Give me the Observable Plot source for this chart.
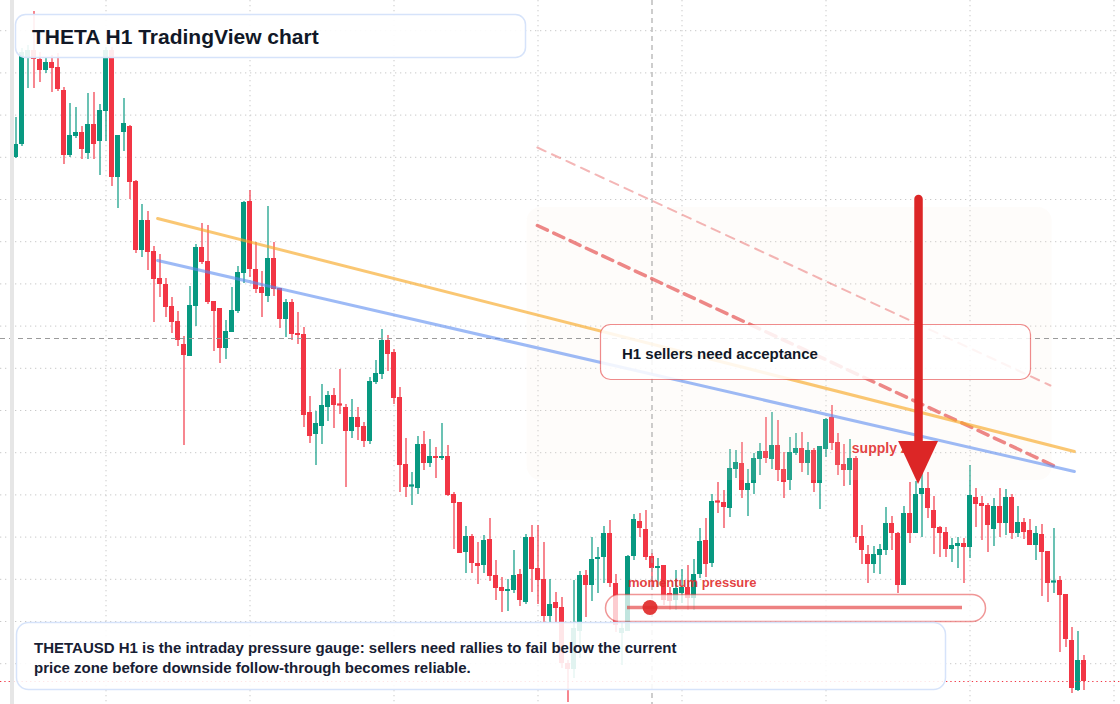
<!DOCTYPE html>
<html><head><meta charset="utf-8">
<script src="https://cdn.jsdelivr.net/npm/d3@7"></script>
<script src="https://cdn.jsdelivr.net/npm/@observablehq/plot@0.6"></script>
<style>
html,body{margin:0;padding:0;background:#fff;}
#wrap{position:relative;width:1120px;height:704px;overflow:hidden;font-family:"Liberation Sans",Arial,sans-serif;}
#wrap svg{position:absolute;left:0;top:0;}
</style></head>
<body><div id="wrap"></div>
<script>
// ---- data (THETAUSD, H1 candles, oldest -> newest) ----
const open = [0.7843,0.7856,0.7942,0.7950,0.7941,0.7930,0.7938,0.7933,0.7910,0.7845,0.7864,0.7868,0.7847,0.7876,0.7859,0.7889,0.7950,0.7823,0.7868,0.7874,0.7819,0.7750,0.7780,0.7749,0.7722,0.7716,0.7694,0.7679,0.7656,0.7644,0.7694,0.7753,0.7739,0.7699,0.7692,0.7652,0.7668,0.7689,0.7727,0.7799,0.7731,0.7713,0.7704,0.7742,0.7712,0.7681,0.7698,0.7667,0.7666,0.7588,0.7566,0.7574,0.7593,0.7605,0.7596,0.7593,0.7569,0.7583,0.7574,0.7559,0.7618,0.7626,0.7660,0.7648,0.7603,0.7536,0.7514,0.7512,0.7556,0.7537,0.7544,0.7542,0.7544,0.7506,0.7498,0.7448,0.7464,0.7437,0.7435,0.7461,0.7425,0.7413,0.7409,0.7410,0.7426,0.7398,0.7463,0.7432,0.7421,0.7384,0.7398,0.7393,0.7337,0.7331,0.7369,0.7425,0.7415,0.7441,0.7443,0.7467,0.7417,0.7367,0.7369,0.7444,0.7479,0.7471,0.7444,0.7432,0.7435,0.7407,0.7400,0.7407,0.7413,0.7402,0.7426,0.7460,0.7437,0.7499,0.7498,0.7492,0.7531,0.7537,0.7510,0.7517,0.7541,0.7549,0.7541,0.7555,0.7531,0.7520,0.7547,0.7552,0.7537,0.7550,0.7517,0.7551,0.7583,0.7558,0.7536,0.7530,0.7542,0.7464,0.7446,0.7436,0.7445,0.7450,0.7477,0.7467,0.7415,0.7487,0.7467,0.7506,0.7512,0.7490,0.7473,0.7468,0.7451,0.7454,0.7457,0.7453,0.7503,0.7497,0.7495,0.7471,0.7494,0.7477,0.7503,0.7467,0.7478,0.7470,0.7455,0.7466,0.7449,0.7418,0.7420,0.7406,0.7360,0.7310,0.7340];
const high = [0.7883,0.7952,0.7955,0.7989,0.7948,0.7942,0.7945,0.7947,0.7913,0.7897,0.7893,0.7874,0.7907,0.7908,0.7896,0.7953,0.7953,0.7865,0.7902,0.7875,0.7820,0.7796,0.7789,0.7754,0.7746,0.7722,0.7703,0.7689,0.7664,0.7714,0.7756,0.7777,0.7775,0.7699,0.7692,0.7680,0.7713,0.7734,0.7799,0.7810,0.7758,0.7729,0.7794,0.7758,0.7712,0.7701,0.7701,0.7688,0.7673,0.7604,0.7589,0.7616,0.7609,0.7612,0.7631,0.7596,0.7601,0.7593,0.7578,0.7623,0.7640,0.7671,0.7665,0.7651,0.7613,0.7562,0.7528,0.7564,0.7569,0.7561,0.7553,0.7577,0.7555,0.7508,0.7498,0.7474,0.7466,0.7458,0.7465,0.7482,0.7440,0.7423,0.7421,0.7450,0.7431,0.7466,0.7475,0.7475,0.7458,0.7421,0.7408,0.7403,0.7340,0.7420,0.7429,0.7430,0.7463,0.7453,0.7474,0.7480,0.7426,0.7378,0.7445,0.7486,0.7487,0.7490,0.7447,0.7442,0.7435,0.7413,0.7430,0.7431,0.7435,0.7441,0.7472,0.7482,0.7506,0.7518,0.7510,0.7551,0.7550,0.7558,0.7531,0.7547,0.7557,0.7583,0.7588,0.7580,0.7548,0.7563,0.7567,0.7568,0.7558,0.7552,0.7554,0.7582,0.7595,0.7567,0.7556,0.7561,0.7544,0.7475,0.7455,0.7454,0.7456,0.7493,0.7484,0.7468,0.7494,0.7518,0.7519,0.7530,0.7528,0.7504,0.7474,0.7473,0.7462,0.7463,0.7462,0.7535,0.7512,0.7504,0.7497,0.7502,0.7512,0.7511,0.7506,0.7494,0.7482,0.7481,0.7474,0.7476,0.7449,0.7472,0.7424,0.7406,0.7373,0.7369,0.7345];
const low = [0.7842,0.7854,0.7912,0.7912,0.7918,0.7927,0.7908,0.7909,0.7836,0.7843,0.7862,0.7841,0.7841,0.7841,0.7825,0.7859,0.7814,0.7792,0.7849,0.7801,0.7747,0.7743,0.7730,0.7678,0.7703,0.7683,0.7667,0.7654,0.7555,0.7644,0.7674,0.7736,0.7696,0.7649,0.7637,0.7641,0.7668,0.7687,0.7717,0.7723,0.7707,0.7683,0.7698,0.7704,0.7672,0.7663,0.7660,0.7656,0.7573,0.7557,0.7535,0.7556,0.7579,0.7572,0.7586,0.7513,0.7562,0.7560,0.7553,0.7556,0.7616,0.7621,0.7629,0.7596,0.7508,0.7503,0.7495,0.7506,0.7530,0.7533,0.7522,0.7540,0.7504,0.7451,0.7447,0.7427,0.7427,0.7416,0.7427,0.7419,0.7400,0.7388,0.7389,0.7407,0.7394,0.7396,0.7408,0.7396,0.7378,0.7378,0.7378,0.7332,0.7298,0.7322,0.7342,0.7383,0.7399,0.7407,0.7417,0.7413,0.7368,0.7335,0.7369,0.7440,0.7463,0.7440,0.7413,0.7413,0.7395,0.7390,0.7390,0.7397,0.7390,0.7390,0.7422,0.7423,0.7433,0.7487,0.7472,0.7483,0.7522,0.7502,0.7484,0.7506,0.7525,0.7537,0.7531,0.7519,0.7502,0.7510,0.7545,0.7528,0.7525,0.7508,0.7491,0.7543,0.7550,0.7525,0.7514,0.7515,0.7457,0.7436,0.7417,0.7427,0.7426,0.7445,0.7450,0.7407,0.7415,0.7457,0.7467,0.7463,0.7482,0.7446,0.7443,0.7443,0.7438,0.7432,0.7417,0.7442,0.7473,0.7460,0.7448,0.7454,0.7463,0.7465,0.7461,0.7463,0.7461,0.7455,0.7440,0.7404,0.7398,0.7407,0.7348,0.7353,0.7307,0.7309,0.7310];
const close = [0.7856,0.7948,0.7950,0.7941,0.7930,0.7938,0.7932,0.7911,0.7845,0.7865,0.7868,0.7851,0.7876,0.7856,0.7890,0.7950,0.7823,0.7865,0.7877,0.7818,0.7750,0.7780,0.7748,0.7721,0.7716,0.7693,0.7678,0.7660,0.7645,0.7695,0.7753,0.7738,0.7698,0.7689,0.7652,0.7669,0.7690,0.7728,0.7798,0.7731,0.7711,0.7707,0.7742,0.7711,0.7681,0.7698,0.7666,0.7665,0.7585,0.7564,0.7577,0.7595,0.7605,0.7595,0.7595,0.7569,0.7583,0.7573,0.7559,0.7619,0.7627,0.7660,0.7646,0.7602,0.7535,0.7513,0.7515,0.7556,0.7537,0.7544,0.7542,0.7544,0.7505,0.7497,0.7447,0.7464,0.7437,0.7434,0.7460,0.7424,0.7412,0.7409,0.7411,0.7425,0.7400,0.7463,0.7431,0.7420,0.7384,0.7396,0.7392,0.7337,0.7331,0.7372,0.7425,0.7415,0.7441,0.7443,0.7467,0.7417,0.7375,0.7372,0.7444,0.7481,0.7472,0.7443,0.7432,0.7434,0.7400,0.7399,0.7412,0.7413,0.7402,0.7426,0.7459,0.7436,0.7499,0.7498,0.7493,0.7532,0.7538,0.7510,0.7517,0.7542,0.7549,0.7542,0.7555,0.7530,0.7518,0.7548,0.7552,0.7537,0.7550,0.7517,0.7554,0.7581,0.7557,0.7535,0.7530,0.7542,0.7463,0.7450,0.7436,0.7446,0.7451,0.7477,0.7467,0.7415,0.7487,0.7467,0.7506,0.7512,0.7492,0.7472,0.7467,0.7451,0.7455,0.7457,0.7453,0.7505,0.7496,0.7494,0.7475,0.7494,0.7477,0.7503,0.7467,0.7478,0.7468,0.7455,0.7467,0.7448,0.7417,0.7419,0.7405,0.7361,0.7312,0.7340,0.7319];

// grid ticks (price levels and bar indices of daily separators)
const gridPrices = [0.79698,0.79276,0.78854,0.78432,0.7801,0.77588,0.77166,0.76744,0.76322,0.759,0.75478,0.75056,0.74634,0.74212,0.7379,0.73368];
const gridBars = [15,39,63,87,111,135,159,183];
const crossBar = [106];
const crossPrice = [0.7662];

// annotation geometry in data units (bar index, price)
const orangeLine = [{bar:23.6, price:0.7782},{bar:176.4, price:0.7549}];
const blueLine   = [{bar:23.6, price:0.7740},{bar:176.4, price:0.7529}];
const redDash    = [{bar:86.9, price:0.7775},{bar:172.9, price:0.7535}];
const redFaint   = [{bar:86.9, price:0.7853},{bar:172.4, price:0.7615}];
const zoneBox    = [{b1:85.2, b2:172.7, p1:0.7520, p2:0.7793}];
const supplyLabel = [{bar:139.3, price:0.7552, text:"supply zone"}];
const arrowShaft = [{bar:150.42, top:0.7801, bottom:0.7556}];
const arrowHead  = [{bar:147.1, p1:0.7559, p2:0.7559},{bar:150.42, p1:0.7559, p2:0.7516},{bar:153.75, p1:0.7559, p2:0.7559}];

const UP = "#089981", DOWN = "#f23645";
const candles = close.map((c, i) => {
  const o = open[i];
  const lo = Math.min(o, c), hi = Math.max(o, c);
  const pad = (hi - lo) < 0.00012 ? 0.00006 : 0;
  return {bar: i, o, h: high[i], l: low[i], c, b1: lo - pad, b2: hi + pad, col: c >= o ? UP : DOWN};
});

const xOpt = {type:"linear", domain:[-15.5/6, (1120-15.5)/6], axis:null};
const yOpt = {type:"linear", domain:[0.7296, 0.8], axis:null};

const main = Plot.plot({
  width:1120, height:704, margin:0,
  x:xOpt, y:yOpt,
  style:{background:"#ffffff", fontFamily:"Liberation Sans, Arial, sans-serif"},
  marks:[
    Plot.ruleY(gridPrices, {stroke:"#c9c9c9", strokeDasharray:"1.3,3.7", strokeWidth:1}),
    Plot.ruleX(gridBars, {stroke:"#c9c9c9", strokeDasharray:"1.3,3.7", strokeWidth:1}),
    Plot.ruleX(candles, {x:"bar", y1:"l", y2:"h", stroke:"col", strokeWidth:1.2}),
    Plot.rect(candles, {x1:d => d.bar - 0.4167, x2:d => d.bar + 0.4167, y1:"b1", y2:"b2", fill:"col"}),
    Plot.rect(zoneBox, {x1:"b1", x2:"b2", y1:"p1", y2:"p2", fill:"#f3e3d6", fillOpacity:0.12, rx:14}),
    Plot.ruleX(crossBar, {stroke:"#9b9b9b", strokeDasharray:"5,4", strokeWidth:1}),
    Plot.ruleY(crossPrice, {stroke:"#9b9b9b", strokeDasharray:"5,4", strokeWidth:1}),
    Plot.ruleY([close[close.length-1]], {stroke:"#f23645", strokeDasharray:"1.3,3", strokeWidth:1}),
    Plot.line(redFaint, {x:"bar", y:"price", stroke:"#e34848", strokeOpacity:0.4, strokeWidth:2, strokeDasharray:"9,7"}),
    Plot.line(redDash, {x:"bar", y:"price", stroke:"#e34848", strokeOpacity:0.65, strokeWidth:3.5, strokeDasharray:"11,7"}),
    Plot.line(orangeLine, {x:"bar", y:"price", stroke:"#f7a928", strokeOpacity:0.65, strokeWidth:3}),
    Plot.line(blueLine, {x:"bar", y:"price", stroke:"#5b8cf0", strokeOpacity:0.6, strokeWidth:3}),
    Plot.text(supplyLabel, {x:"bar", y:"price", text:"text", textAnchor:"start", fill:"#e02a2a", fillOpacity:0.9, fontSize:14, fontWeight:700})
  ]
});

const wrap = document.getElementById("wrap");
wrap.appendChild(main);

// overlay annotation boxes
const ov = d3.create("svg").attr("width",1120).attr("height",704)
  .style("font-family","Liberation Sans, Arial, sans-serif");
ov.append("rect").attr("x",10).attr("y",0).attr("width",4).attr("height",704).attr("fill","#e6e6e6");
// title
ov.append("rect").attr("x",15.5).attr("y",14.5).attr("width",510).attr("height",43).attr("rx",10)
  .attr("fill","rgba(255,255,255,0.9)").attr("stroke","#d6e3fa").attr("stroke-width",1.5);
ov.append("text").attr("x",32).attr("y",44).attr("font-size",21).attr("font-weight",700).attr("fill","#111827")
  .text("THETA H1 TradingView chart");
// H1 box
ov.append("rect").attr("x",600.5).attr("y",324.5).attr("width",430).attr("height",55).attr("rx",10)
  .attr("fill","rgba(255,255,255,0.86)").attr("stroke","rgba(225,45,45,0.55)").attr("stroke-width",1.2);
ov.append("text").attr("x",622).attr("y",359).attr("font-size",15).attr("font-weight",700).attr("fill","#111827")
  .text("H1 sellers need acceptance");
// momentum gauge
ov.append("rect").attr("x",605.5).attr("y",594.5).attr("width",380).attr("height",27).attr("rx",13.5)
  .attr("fill","rgba(255,255,255,0.75)").attr("stroke","rgba(225,45,45,0.5)").attr("stroke-width",1.5);
ov.append("line").attr("x1",627).attr("x2",962).attr("y1",607.5).attr("y2",607.5)
  .attr("stroke","rgba(225,45,45,0.6)").attr("stroke-width",3.5);
ov.append("circle").attr("cx",650).attr("cy",607.5).attr("r",7.5).attr("fill","#e02a2a").attr("fill-opacity",0.92);
ov.append("text").attr("x",628).attr("y",587).attr("font-size",13).attr("font-weight",700).attr("fill","#e02a2a").attr("fill-opacity",0.9)
  .text("momentum pressure");
// caption
ov.append("rect").attr("x",16.5).attr("y",622.5).attr("width",929).attr("height",67).attr("rx",12)
  .attr("fill","rgba(255,255,255,0.88)").attr("stroke","#d6e3fa").attr("stroke-width",1.5);
ov.append("text").attr("x",34).attr("y",653).attr("font-size",15).attr("font-weight",700).attr("fill","#172033")
  .text("THETAUSD H1 is the intraday pressure gauge: sellers need rallies to fail below the current");
ov.append("text").attr("x",34).attr("y",673).attr("font-size",15).attr("font-weight",700).attr("fill","#172033")
  .text("price zone before downside follow-through becomes reliable.");
wrap.appendChild(ov.node());

// arrow on top
const arrow = Plot.plot({
  width:1120, height:704, margin:0, x:xOpt, y:yOpt,
  style:{background:"transparent"},
  marks:[
    Plot.ruleX(arrowShaft, {x:"bar", y1:"bottom", y2:"top", stroke:"#dc2626", strokeWidth:8.5, strokeLinecap:"round"}),
    Plot.areaY(arrowHead, {x:"bar", y1:"p1", y2:"p2", fill:"#dc2626"})
  ]
});
wrap.appendChild(arrow);
</script>
</body></html>
